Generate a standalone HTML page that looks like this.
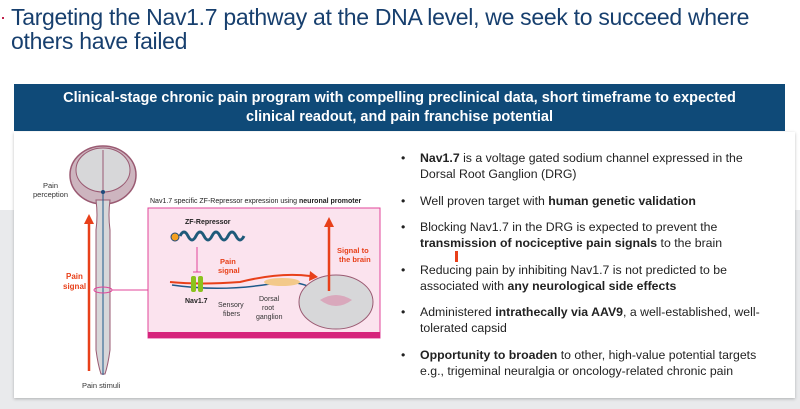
<!DOCTYPE html>
<html><head><meta charset="utf-8"><style>
body{margin:0;width:800px;height:409px;overflow:hidden;background:#fff;font-family:"Liberation Sans",sans-serif;position:relative}
.t{position:absolute;left:11px;top:5px;color:#173f6e;font-size:23px;line-height:24px;letter-spacing:-0.3px}
.gray{position:absolute;left:0;top:210px;width:800px;height:199px;background:#e9eaec}
.banner{position:absolute;left:14px;top:84px;width:771px;height:47px;background:#0f4a78;color:#fff;font-weight:bold;font-size:14.5px;line-height:19px;text-align:center;padding-top:5px;box-sizing:border-box}
.card{position:absolute;left:14px;top:132px;width:781px;height:266px;background:#fff;box-shadow:0 1px 3px rgba(0,0,0,.25)}
ul{position:absolute;left:400px;top:150px;margin:0;padding:0;list-style:none;font-size:12.3px;color:#222;line-height:16px}
li{position:relative;padding-left:20px;margin-bottom:10.5px}
li:before{content:"•";position:absolute;left:1px}
b{font-weight:bold}
</style></head><body>
<div style="position:absolute;left:2px;top:17px;width:2px;height:2px;background:#c0204a"></div>
<div class="t">Targeting the Nav1.7 pathway at the DNA level, we seek to succeed where<br>others have failed</div>
<div class="gray"></div>
<div class="banner">Clinical-stage chronic pain program with compelling preclinical data, short timeframe to expected<br>clinical readout, and pain franchise potential</div>
<div class="card"></div>
<svg style="position:absolute;left:0;top:0" width="800" height="409" font-family="Liberation Sans, sans-serif">
<ellipse cx="103" cy="175" rx="33" ry="29" fill="#cdb5bf" stroke="#9a5a72" stroke-width="1.5"/>
<ellipse cx="103" cy="170" rx="27" ry="22" fill="#d7d7d9" stroke="#9a5a72" stroke-width="1"/>
<path d="M103 150 V200" stroke="#9a5a72"/>
<path d="M96 200 Q98 215 96 230 L96 350 Q98 365 101 374 L105 374 Q108 365 110 350 L110 230 Q108 215 110 200Z" fill="#d7d7d9" stroke="#9a5a72"/>
<path d="M103 192 V375" stroke="#1e5a8a" stroke-width="1"/>
<circle cx="103" cy="192" r="2" fill="#1e4a7a"/>
<ellipse cx="103" cy="290" rx="9" ry="3" fill="none" stroke="#e0449a"/>
<path d="M112 290 H148" stroke="#e0449a"/>
<path d="M89 371 V222" stroke="#e8401a" stroke-width="2.5"/>
<path d="M84 224 L89 214 L94 224Z" fill="#e8401a"/>
<text x="43" y="188" font-size="7.5" fill="#333">Pain</text>
<text x="33" y="197" font-size="7.5" fill="#333">perception</text>
<text x="66" y="279" font-size="8" fill="#e8401a" font-weight="bold">Pain</text>
<text x="63" y="289" font-size="8" fill="#e8401a" font-weight="bold">signal</text>
<text x="82" y="388" font-size="7.5" fill="#333">Pain stimuli</text>
<text x="150" y="203" font-size="7" fill="#222">Nav1.7 specific ZF-Repressor expression using <tspan font-weight="bold">neuronal promoter</tspan></text>
<rect x="148" y="208" width="232" height="130" fill="#fbe3ee" stroke="#e0449a"/>
<rect x="148" y="332" width="232" height="6" fill="#d6247c"/>
<text x="185" y="224" font-size="7" font-weight="bold" fill="#222">ZF-Repressor</text>
<circle cx="175" cy="237" r="4" fill="#f5a020" stroke="#1e4a7a"/>
<path d="M180 236 q4 -8 8 0 t8 0 t8 0 t8 0 t8 0 t8 0 t8 0 t8 0" fill="none" stroke="#1e5a7a" stroke-width="3"/>
<path d="M197 247 V272 M193 272 H201" stroke="#e0449a"/>
<path d="M170 282 Q200 285 240 282 Q280 272 310 276" fill="none" stroke="#e8401a" stroke-width="2"/>
<path d="M310 271 L318 277 L309 281Z" fill="#e8401a"/>
<path d="M172 285 Q220 292 270 284 Q300 278 318 292" fill="none" stroke="#1e5a8a" stroke-width="1.5"/>
<ellipse cx="282" cy="282" rx="18" ry="4" fill="#f3c98a"/>
<rect x="191" y="276" width="5" height="16" rx="2" fill="#8bc21e"/><rect x="198" y="276" width="5" height="16" rx="2" fill="#8bc21e"/>
<text x="185" y="303" font-size="7" font-weight="bold" fill="#222">Nav1.7</text>
<text x="220" y="264" font-size="7.5" font-weight="bold" fill="#e8401a">Pain</text>
<text x="218" y="273" font-size="7.5" font-weight="bold" fill="#e8401a">signal</text>
<text x="218" y="307" font-size="7" fill="#333">Sensory</text><text x="223" y="316" font-size="7" fill="#333">fibers</text>
<text x="259" y="301" font-size="7" fill="#333">Dorsal</text><text x="262" y="310" font-size="7" fill="#333">root</text><text x="256" y="319" font-size="7" fill="#333">ganglion</text>
<ellipse cx="336" cy="302" rx="37" ry="27" fill="#d7d7d9" stroke="#9a5a72"/>
<path d="M320 300 Q336 290 352 300 Q336 312 320 300" fill="#d9a8bc"/>
<path d="M329 291 V225" stroke="#e8401a" stroke-width="2.5"/>
<path d="M324 227 L329 217 L334 227Z" fill="#e8401a"/>
<text x="337" y="253" font-size="7.5" font-weight="bold" fill="#e8401a">Signal to</text>
<text x="339" y="262" font-size="7.5" font-weight="bold" fill="#e8401a">the brain</text>
<rect x="455" y="251" width="3" height="11" fill="#e8401a"/>
</svg>
<ul>
<li><b>Nav1.7</b> is a voltage gated sodium channel expressed in the<br>Dorsal Root Ganglion (DRG)</li>
<li>Well proven target with <b>human genetic validation</b></li>
<li>Blocking Nav1.7 in the DRG is expected to prevent the<br><b>transmission of nociceptive pain signals</b> to the brain</li>
<li>Reducing pain by inhibiting Nav1.7 is not predicted to be<br>associated with <b>any neurological side effects</b></li>
<li>Administered <b>intrathecally via AAV9</b>, a well-established, well-<br>tolerated capsid</li>
<li><b>Opportunity to broaden</b> to other, high-value potential targets<br>e.g., trigeminal neuralgia or oncology-related chronic pain</li>
</ul>
</body></html>
